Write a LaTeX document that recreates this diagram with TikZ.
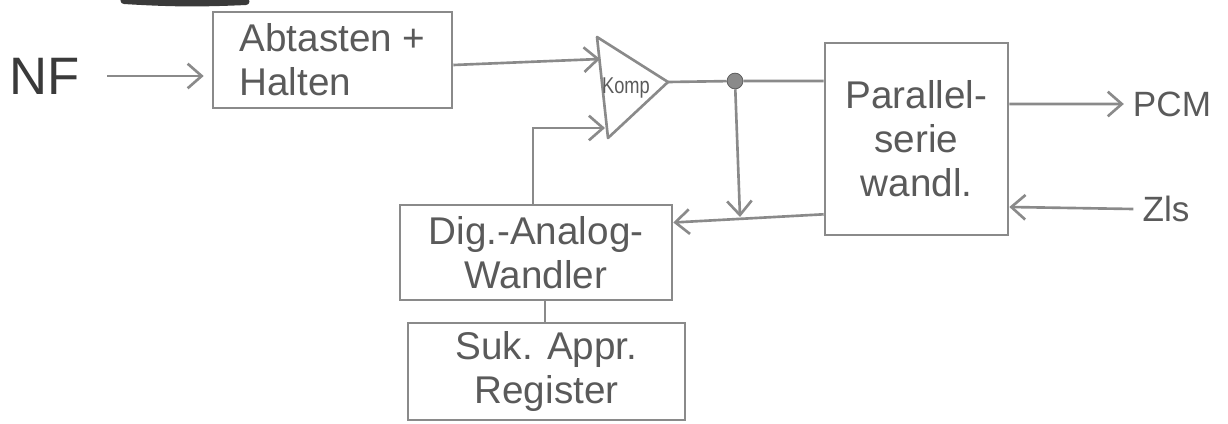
\documentclass[tikz,border=0pt]{standalone}
\usepackage{fontspec}
\setmainfont{Liberation Sans}
\usetikzlibrary{arrows.meta}
\definecolor{pencil}{HTML}{8A8A8A}
\definecolor{pencilink}{HTML}{5A5A5A}
\definecolor{darkpencil}{HTML}{3A3A3A}
\tikzset{
  blockbox/.style={draw=pencil, line width=1.5pt, fill=none, inner sep=0pt,
    align=center, text=pencilink, font=\fontsize{22}{25}\selectfont},
  wire/.style={draw=pencil, line width=1.5pt},
  arr/.style={wire, -{Straight Barb[length=8pt,width=14pt,line width=1.5pt]}},
  sig/.style={text=pencilink, inner sep=0pt, font=\fontsize{20}{22}\selectfont},
}
\begin{document}
\begin{tikzpicture}[x=0.02cm, y=-0.02cm]
\useasboundingbox (0,0) rectangle (1228,423);
\clip (0,0) rectangle (1228,423);

% heading underline stroke at the top edge
\draw[darkpencil, line width=4pt, line cap=round] (124,0.5) to[bend right=3] (246,1.5);

% input signal
\node[text=darkpencil, inner sep=0pt, font=\fontsize{30}{32}\selectfont] (nf) at (45,76) {NF};

% blocks
\node[blockbox, minimum width=4.78cm, minimum height=1.92cm, align=left] (ab) at (332.5,60)
  {Abtasten +\\Halten};
\node[blockbox, minimum width=3.66cm, minimum height=3.84cm] (par) at (916.5,139)
  {Parallel-\\serie\\wandl.};
\node[blockbox, minimum width=5.44cm, minimum height=1.9cm] (dac) at (536,252.5)
  {Dig.-Analog-\\Wandler};
\node[blockbox, minimum width=5.54cm, minimum height=1.94cm] (sar) at (546.5,371.5)
  {Suk. Appr.\\Register};

% comparator triangle
\coordinate (ktop) at (597,37);
\coordinate (kbot) at (608,138);
\coordinate (ktip) at (668,82);
\draw[wire, line join=round] (ktop) -- (ktip) -- (kbot) -- cycle;
\node[text=pencilink, inner sep=0pt, font=\fontsize{13}{13}\selectfont] (komp) at (626,88)
  {\scalebox{0.8}[1]{Komp}};
\coordinate (kin1) at (600,59);
\coordinate (kin2) at (605,128);

% junction point
\node[circle, fill=pencil, draw=pencilink, minimum size=9pt, inner sep=0pt] (dot) at (735,81) {};
\coordinate (drop) at (740,217);

% output signals
\node[sig] (pcm) at (1172,104) {PCM};
\node[sig] (zls) at (1166,209) {Zls};

% connectors
\draw[arr] ([xshift=0.54cm]nf.east) -- ([xshift=-0.16cm]nf.east -| ab.west);
\draw[arr] ([yshift=-0.1cm]ab.east) -- (kin1);
\draw[arr] (dac.north -| 533,0) |- (kin2);
\draw[wire] (ktip) -- (dot) -- (dot -| par.west);
\draw[arr] (dot) -- (drop);
\draw[arr] ([yshift=0.44cm]par.south west) -- ([yshift=0.6cm]dac.east);
\draw[arr] ([yshift=0.7cm]par.east) -- ([xshift=-5pt]pcm.west);
\draw[arr] ([xshift=-5pt]zls.west) -- ([yshift=-1.36cm]par.east);
\draw[wire] (dac.south -| 545,0) -- (sar.north -| 545,0);
\end{tikzpicture}
\end{document}
